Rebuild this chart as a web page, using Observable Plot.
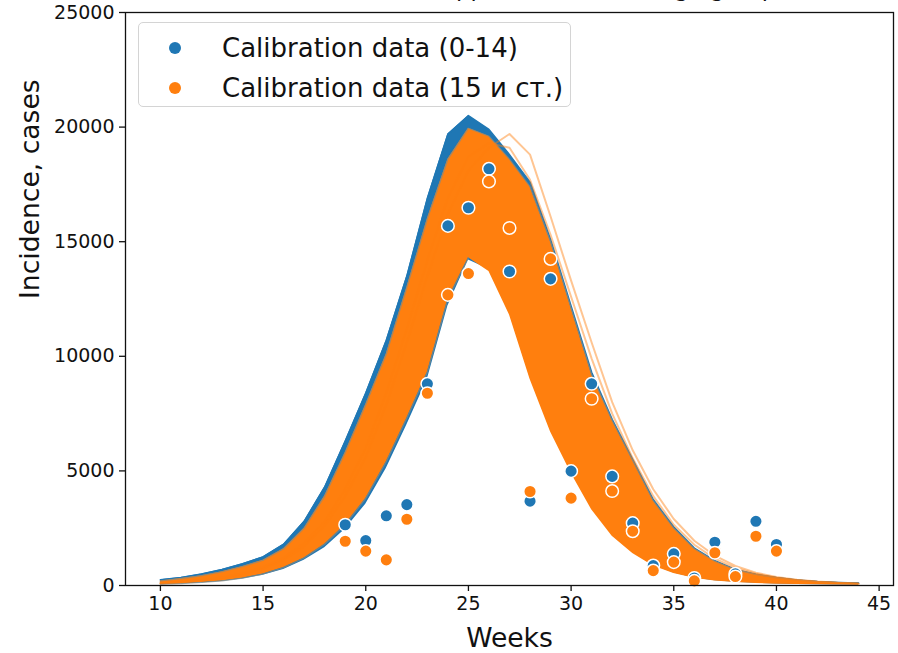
<!DOCTYPE html>
<html>
<head>
<meta charset="utf-8">
<script src="https://cdn.jsdelivr.net/npm/d3@7"></script>
<script src="https://cdn.jsdelivr.net/npm/@observablehq/plot@0.6"></script>
<style>
  body { margin: 0; background: #fff; }
  #chart { position: relative; width: 898px; height: 653px; overflow: hidden; font-family: "DejaVu Sans", sans-serif; }
  #chart svg { position: absolute; left: 0; top: 0; }
  .legend { position: absolute; left: 138px; top: 22px; width: 433px; height: 85px; box-sizing: border-box;
            border: 1px solid #d4d4d4; border-radius: 5px; background: rgba(255,255,255,0.85); }
  .legend .row { position: absolute; left: 0; height: 32px; display: flex; align-items: center;
                 font-size: 26px; color: #111; white-space: nowrap; }
  .legend .dot { width: 12px; height: 12px; border-radius: 50%; margin-left: 30px; margin-right: 41px; flex: none; }
</style>
</head>
<body>
<div id="chart"></div>
<script>
// Weekly model trajectories (envelopes of the simulated ensemble) and calibration data
const weeks = [10, 11, 12, 13, 14, 15, 16, 17, 18, 19, 20, 21, 22, 23, 24, 25, 26, 27,
               28, 29, 30, 31, 32, 33, 34, 35, 36, 37, 38, 39, 40, 41, 42, 43, 44];

// 0-14 age group: ensemble band
const blueHigh = [250, 350, 500, 700, 950, 1250, 1800, 2800, 4300, 6300, 8400, 10700, 13500, 16900,
                  19700, 20500, 19900, 18800, 17600, 15100, 12200, 9300, 7250, 5500, 3750, 2550,
                  1630, 1080, 700, 490, 345, 245, 175, 135, 105];
const blueLow = [40, 65, 110, 170, 280, 450, 700, 1100, 1650, 2450, 3550, 5100, 7000, 9000,
                 12200, 14200, 13800, 11900, 9100, 6800, 5000, 3400, 2200, 1450, 880, 540,
                 330, 210, 140, 95, 65, 48, 37, 27, 22];

// 15+ age group: ensemble band
const orangeHigh = [200, 300, 430, 600, 830, 1100, 1600, 2500, 3900, 5800, 7900, 10100, 13000, 16000,
                    18600, 19950, 19600, 18600, 17400, 15000, 12100, 9200, 7200, 5450, 3700, 2500,
                    1600, 1060, 690, 480, 340, 240, 170, 130, 100];
const orangeLow = [50, 80, 130, 200, 320, 500, 780, 1200, 1800, 2650, 3800, 5400, 7300, 9300,
                   12500, 14300, 13700, 11800, 9000, 6700, 4900, 3300, 2150, 1400, 850, 520,
                   320, 200, 130, 90, 60, 45, 35, 25, 20];

// two late 15+ trajectories lying outside the main band
const orangeLateA = [90, 140, 210, 320, 490, 740, 1120, 1700, 2600, 3900, 5600, 7900, 10600, 13500,
                     16200, 18100, 19100, 19700, 18800, 16100, 13300, 10600, 8000, 5900, 4200, 2900,
                     1950, 1300, 850, 560, 370, 250, 170, 120, 80];
const orangeLateB = [100, 150, 230, 350, 530, 800, 1200, 1850, 2800, 4200, 6000, 8400, 11200, 14200,
                     16900, 18700, 19300, 19100, 17700, 15300, 12600, 9900, 7500, 5550, 3900, 2650,
                     1780, 1170, 770, 510, 335, 228, 157, 112, 76];

// Calibration data
const dataWeeks = [19, 20, 21, 22, 23, 24, 25, 26, 27, 28, 29, 30, 31, 32, 33, 34, 35, 36, 37, 38, 39, 40];
const cases0to14 = [2650, 1960, 3040, 3530, 8800, 15690, 16480, 18180, 13700, 3680, 13380, 4990,
                    8800, 4760, 2720, 870, 1380, 330, 1890, 510, 2800, 1790];
const cases15plus = [1930, 1500, 1120, 2890, 8390, 12680, 13610, 17630, 15600, 4100, 14250, 3810,
                     8150, 4120, 2370, 650, 1020, 200, 1430, 390, 2150, 1500];

const xTicks = [10, 15, 20, 25, 30, 35, 40, 45];
const yTicks = [0, 5000, 10000, 15000, 20000, 25000];

const titleText = "Model calibration: approach with two age groups";
const xLabel = "Weeks";
const yLabel = "Incidence, cases";
const seriesNames = ["Calibration data (0-14)", "Calibration data (15 и ст.)"];
const blue = "#1f77b4", orange = "#ff7f0e";

const band = (lo, hi) => weeks.map((w, i) => ({week: w, lo: lo[i], hi: hi[i]}));
const blueBand = band(blueLow, blueHigh);
const orangeBand = band(orangeLow, orangeHigh);
const lateRuns = [
  ...orangeLateA.map((v, i) => ({week: weeks[i], v, run: "A"})),
  ...orangeLateB.map((v, i) => ({week: weeks[i], v, run: "B"}))
];
const obsBlue = dataWeeks.map((w, i) => ({week: w, v: cases0to14[i]}));
const obsOrange = dataWeeks.map((w, i) => ({week: w, v: cases15plus[i]}));
const edge = "#8b8a7e";

const plot = Plot.plot({
  width: 898,
  height: 653,
  marginLeft: 125,
  marginRight: 5,
  marginTop: 12,
  marginBottom: 68,
  style: {fontFamily: "DejaVu Sans", fontSize: "19px", color: "#111", background: "transparent"},
  x: {domain: [8.3, 45.7]},
  y: {domain: [0, 25000]},
  marks: [
    Plot.areaY(blueBand, {x: "week", y1: "lo", y2: "hi", fill: blue}),
    Plot.line(blueBand, {x: "week", y: "hi", stroke: blue, strokeWidth: 1.5}),
    Plot.areaY(orangeBand, {x: "week", y1: "lo", y2: "hi", fill: orange}),
    // blue runs showing through along the outer edges of the band
    Plot.line(orangeBand, {x: "week", y: "hi", stroke: edge, strokeWidth: 1.2, strokeOpacity: 0.75}),
    Plot.line(orangeBand, {filter: d => d.week <= 25, x: "week", y: "lo", stroke: edge, strokeWidth: 1.2, strokeOpacity: 0.7}),
    Plot.line(lateRuns, {x: "week", y: "v", z: "run", stroke: orange, strokeWidth: 2, strokeOpacity: 0.45}),
    Plot.dot(obsBlue, {x: "week", y: "v", r: 6.3, fill: blue, stroke: "white", strokeWidth: 1.5}),
    Plot.dot(obsOrange, {x: "week", y: "v", r: 6.3, fill: orange, stroke: "white", strokeWidth: 1.5}),
    Plot.frame({stroke: "#111", strokeWidth: 1.3}),
    Plot.axisX({ticks: xTicks, tickSize: 6, tickPadding: 5, label: null, fontSize: 19, strokeWidth: 1.3}),
    Plot.axisY({ticks: yTicks, tickSize: 6, tickPadding: 5, label: null, fontSize: 19, strokeWidth: 1.3,
                tickFormat: d => String(d)}),
    Plot.text([yLabel], {frameAnchor: "left", rotate: -90, dx: -95, fontSize: 26.6, lineAnchor: "middle", fill: "#111"}),
    Plot.text([xLabel], {frameAnchor: "bottom", dy: 53, fontSize: 26.6, lineAnchor: "middle", fill: "#111"}),
    Plot.text([titleText], {frameAnchor: "top", dy: -24, fontSize: 22.8, lineAnchor: "middle", fill: "#111"})
  ]
});

const root = document.getElementById("chart");
root.appendChild(plot);

// legend
const legend = document.createElement("div");
legend.className = "legend";
[blue, orange].forEach((c, i) => {
  const row = document.createElement("div");
  row.className = "row";
  row.style.top = (9 + i * 40) + "px";
  const dot = document.createElement("span");
  dot.className = "dot";
  dot.style.background = c;
  const label = document.createElement("span");
  label.textContent = seriesNames[i];
  row.appendChild(dot);
  row.appendChild(label);
  legend.appendChild(row);
});
root.appendChild(legend);
</script>
</body>
</html>
